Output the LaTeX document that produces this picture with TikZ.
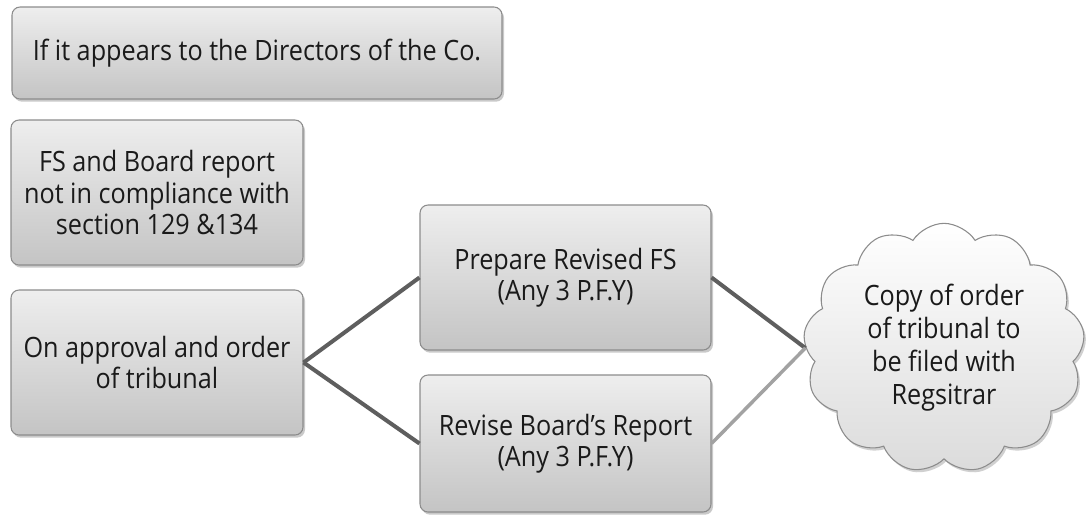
\documentclass[tikz,border=0pt]{standalone}
\usepackage{fontspec}
\setmainfont{Open Sans}[FakeStretch=0.9]
\usetikzlibrary{shapes.symbols,shadows}
\definecolor{boxedge}{HTML}{8C8C8C}
\definecolor{boxtop}{HTML}{EEEEEE}
\definecolor{boxbot}{HTML}{C4C4C4}
\definecolor{darkline}{HTML}{5E5E5E}
\definecolor{lightline}{HTML}{A2A2A2}
\definecolor{txt}{HTML}{1A1A1A}
\newcommand{\sq}{{\char"0027}}
\tikzset{
  x=0.75pt, y=-0.75pt,
  gbox/.style={rectangle, rounded corners=6pt, draw=boxedge, line width=0.8pt,
    top color=boxtop, bottom color=boxbot, align=center, text=txt,
    font=\fontsize{21}{23.5}\selectfont, inner sep=0pt,
    drop shadow={shadow xshift=1.5pt, shadow yshift=-2pt, opacity=0.35, fill=black!60}},
  cloudbox/.style={cloud, cloud puffs=13, cloud puff arc=115, cloud ignores aspect,
    draw=boxedge, line width=0.8pt, top color=white, bottom color=black!14,
    align=center, text=txt, font=\fontsize{21}{24.75}\selectfont, inner sep=0pt,
    drop shadow={shadow xshift=1.5pt, shadow yshift=-2pt, opacity=0.3, fill=black!60}},
  darklink/.style={draw=darkline, line width=3pt},
  lightlink/.style={draw=lightline, line width=2.6pt}
}
\begin{document}
\begin{tikzpicture}
\useasboundingbox (0,0) rectangle (1088,515);
\fill[white] (0,0) rectangle (1088,515);

\node[gbox, minimum width=367.5pt, minimum height=69pt] (appear) at (257,53)
  {If it appears to the Directors of the Co.};
\node[gbox, minimum width=219pt, minimum height=108.75pt] (fsboard) at (157,192.5)
  {FS and Board report\\not in compliance with\\section 129 \&134};
\node[gbox, minimum width=219pt, minimum height=108.75pt] (approval) at (157,362.5)
  {On approval and order\\of tribunal};
\node[gbox, minimum width=218.25pt, minimum height=108.75pt] (prepare) at (565.5,277.5)
  {Prepare Revised FS\\(Any 3 P.F.Y)};
\node[gbox, minimum width=218.25pt, minimum height=102.75pt] (revise) at (565.5,443.5)
  {Revise Board\sq s Report\\(Any 3 P.F.Y)};
\node[cloudbox, minimum width=211pt, minimum height=187pt] (copy) at (944,348)
  {Copy of order\\of tribunal to\\be filed with\\Regsitrar};

\draw[darklink] (approval.east) -- (prepare.west);
\draw[darklink] (approval.east) -- (revise.west);
\draw[darklink] (prepare.east) -- (copy.west);
\draw[lightlink] (revise.east) -- (copy.west);
\end{tikzpicture}
\end{document}
